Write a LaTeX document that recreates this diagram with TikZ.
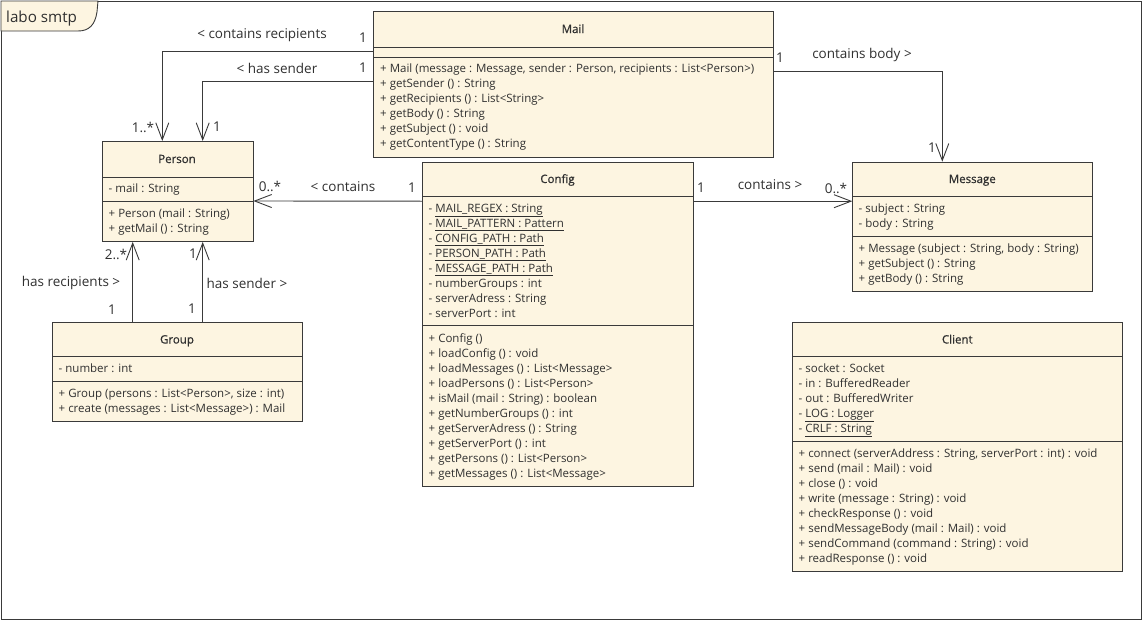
\documentclass[tikz,border=0pt]{standalone}
\usepackage{fontspec}
\setmainfont{Open Sans}
\newfontfamily\titlefam[FakeBold=0.7]{Open Sans}
\usetikzlibrary{arrows.meta,calc}

\definecolor{boxfill}{HTML}{FDF5E1}
\definecolor{linec}{HTML}{3A3A3A}
\definecolor{textc}{HTML}{303030}

\newcommand\umlLines[4]{%
  \foreach \t [count=\i] in {#4} {%
    \node[member] (#1\i) at (#2,{#3+15*(\i-1)}) {\t};}}

\tikzset{
  cls/.style={draw=linec, fill=boxfill, line width=0.9pt, anchor=north west,
    inner sep=0pt, rectangle},
  sep/.style={draw=linec, line width=0.9pt},
  member/.style={anchor=base west, inner sep=0pt, text=textc,
    font=\fontsize{11.5}{12}\selectfont},
  clstitle/.style={anchor=base, inner sep=0pt, text=textc,
    font=\titlefam\fontsize{11.5}{13}\selectfont},
  lbl/.style={inner sep=0pt, text=textc, font=\fontsize{13.5}{15}\selectfont},
  assoc/.style={draw=linec, line width=0.9pt,
    -{Straight Barb[length=17pt,width=13pt,line width=0.9pt]}},
}

\begin{document}
\begin{tikzpicture}[x=1pt,y=-1pt]
\useasboundingbox (0,0) rectangle (1143,621);

% package frame with its name tab
\draw[linec, line width=0.9pt] (1,1) rectangle (1141,619);
\draw[linec, line width=0.9pt, fill=boxfill] (1,1) -- (98,1) -- (97,12)
  .. controls (95,25) and (89,31) .. (78,31) -- (1,31) -- cycle;
\node[inner sep=0pt, anchor=base west, text=textc,
  font=\fontsize{15.2}{17}\selectfont] (pkg) at (6,23) {labo smtp};

% ---------- Mail ----------
\node[cls, minimum width=400pt, minimum height=145.5pt] (mail) at (373,11) {};
\draw[sep] (373,47) -- (773,47);
\draw[sep] (373,57) -- (773,57);
\node[clstitle] (mailT) at (573,33) {Mail};
\umlLines{mailM}{380}{72.5}{
  {+ Mail (message : Message, sender : Person, recipients : List<Person>)},
  {+ getSender () : String},
  {+ getRecipients () : List<String>},
  {+ getBody () : String},
  {+ getSubject () : void},
  {+ getContentType () : String}}

% ---------- Person ----------
\node[cls, minimum width=150.5pt, minimum height=100pt] (person) at (102,141) {};
\draw[sep] (102,177) -- (252.5,177);
\draw[sep] (102,201) -- (252.5,201);
\node[clstitle] (personT) at (177,163) {Person};
\umlLines{personA}{108.5}{192}{{- mail : String}}
\umlLines{personM}{108.5}{217}{
  {+ Person (mail : String)},
  {+ getMail () : String}}

% ---------- Group ----------
\node[cls, minimum width=250pt, minimum height=99.5pt] (group) at (52,321.7) {};
\draw[sep] (52,356.7) -- (302,356.7);
\draw[sep] (52,381) -- (302,381);
\node[clstitle] (groupT) at (177,343.5) {Group};
\umlLines{groupA}{58.5}{372.5}{{- number : int}}
\umlLines{groupM}{58.5}{397}{
  {+ Group (persons : List<Person>, size : int)},
  {+ create (messages : List<Message>) : Mail}}

% ---------- Config ----------
\node[cls, minimum width=270.5pt, minimum height=324.3pt] (config) at (422.3,161.7) {};
\draw[sep] (422.3,196) -- (692.8,196);
\draw[sep] (422.3,325.7) -- (692.8,325.7);
\node[clstitle] (configT) at (557.5,183) {Config};
\umlLines{configA}{428.5}{212}{
  {- \underline{MAIL\_REGEX : String}},
  {- \underline{MAIL\_PATTERN : Pattern}},
  {- \underline{CONFIG\_PATH : Path}},
  {- \underline{PERSON\_PATH : Path}},
  {- \underline{MESSAGE\_PATH : Path}},
  {- numberGroups : int},
  {- serverAdress : String},
  {- serverPort : int}}
\umlLines{configM}{428.5}{342}{
  {+ Config ()},
  {+ loadConfig () : void},
  {+ loadMessages () : List<Message>},
  {+ loadPersons () : List<Person>},
  {+ isMail (mail : String) : boolean},
  {+ getNumberGroups () : int},
  {+ getServerAdress () : String},
  {+ getServerPort () : int},
  {+ getPersons () : List<Person>},
  {+ getMessages () : List<Message>}}

% ---------- Message ----------
\node[cls, minimum width=240pt, minimum height=129.3pt] (message) at (852.3,161.7) {};
\draw[sep] (852.3,196) -- (1092.3,196);
\draw[sep] (852.3,236.7) -- (1092.3,236.7);
\node[clstitle] (messageT) at (972.3,183) {Message};
\umlLines{messageA}{858.5}{212}{
  {- subject : String},
  {- body : String}}
\umlLines{messageM}{858.5}{252.5}{
  {+ Message (subject : String, body : String)},
  {+ getSubject () : String},
  {+ getBody () : String}}

% ---------- Client ----------
\node[cls, minimum width=330pt, minimum height=249.3pt] (client) at (792.3,321.7) {};
\draw[sep] (792.3,356.7) -- (1122.3,356.7);
\draw[sep] (792.3,441) -- (1122.3,441);
\node[clstitle] (clientT) at (957.3,343.5) {Client};
\umlLines{clientA}{798.5}{372.5}{
  {- socket : Socket},
  {- in : BufferedReader},
  {- out : BufferedWriter},
  {- \underline{LOG : Logger}},
  {- \underline{CRLF : String}}}
\umlLines{clientM}{798.5}{457}{
  {+ connect (serverAddress : String, serverPort : int) : void},
  {+ send (mail : Mail) : void},
  {+ close () : void},
  {+ write (message : String) : void},
  {+ checkResponse () : void},
  {+ sendMessageBody (mail : Mail) : void},
  {+ sendCommand (command : String) : void},
  {+ readResponse () : void}}

% ---------- associations ----------
\draw[assoc] ([yshift=-40.5pt]mail.north west) -| ([xshift=60.3pt]person.north west);
\draw[assoc] ([yshift=-70pt]mail.north west) -| ([xshift=100.7pt]person.north west);
\draw[assoc] ([yshift=-60.3pt]mail.north east) -| ([xshift=90pt]message.north west);
\draw[assoc] ([yshift=-39.5pt]config.north west) -- ([yshift=-60pt]person.north east);
\draw[assoc] ([yshift=-39.5pt]config.north east) -- ([yshift=-39.5pt]message.north west);
\draw[assoc] ([xshift=80.7pt]group.north west) -- ([xshift=30.7pt]person.south west);
\draw[assoc] ([xshift=150.7pt]group.north west) -- ([xshift=100.7pt]person.south west);

% ---------- association labels and multiplicities ----------
\node[lbl] (l1) at (262,35) {< contains recipients};
\node[lbl] (l1a) at (363,38) {1};
\node[lbl] (l1b) at (143,127) {1..*};
\node[lbl] (l2) at (277,68) {< has sender};
\node[lbl] (l2a) at (363,68) {1};
\node[lbl] (l2b) at (217,127) {1};
\node[lbl] (l3) at (862,55) {contains body >};
\node[lbl] (l3a) at (780,58) {1};
\node[lbl] (l3b) at (932,148) {1};
\node[lbl] (l4) at (343,187) {< contains};
\node[lbl] (l4a) at (412,188) {1};
\node[lbl] (l4b) at (270,186) {0..*};
\node[lbl] (l5) at (770,185) {contains >};
\node[lbl] (l5a) at (701,188) {1};
\node[lbl] (l5b) at (836,188) {0..*};
\node[lbl] (l6) at (71,283) {has recipients >};
\node[lbl] (l6a) at (112,310) {1};
\node[lbl] (l6b) at (116,254) {2..*};
\node[lbl] (l7) at (247,283) {has sender >};
\node[lbl] (l7a) at (192,309) {1};
\node[lbl] (l7b) at (193,254) {1};
\end{tikzpicture}
\end{document}
